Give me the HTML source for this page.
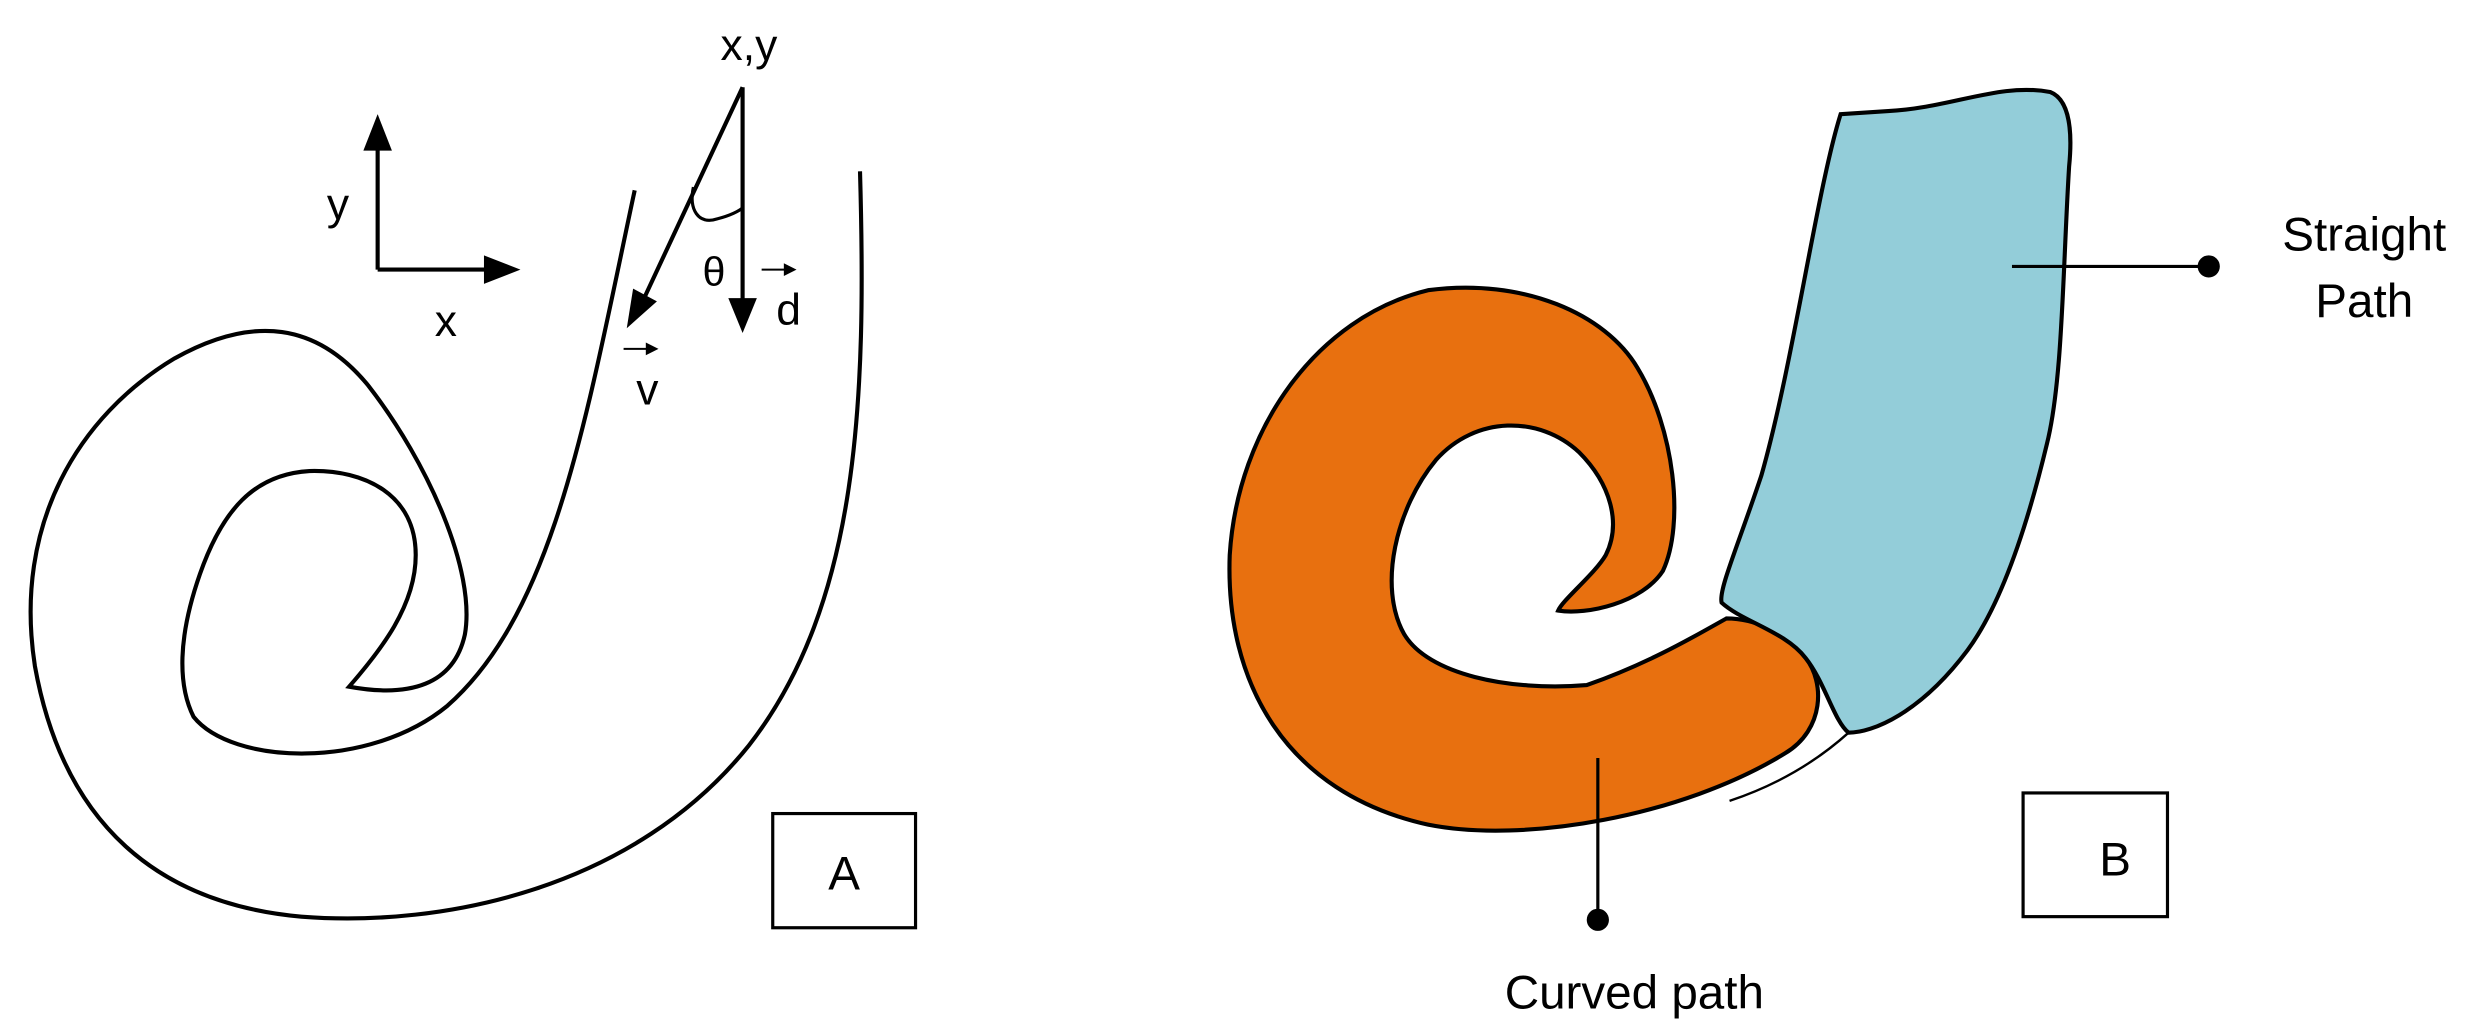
<!DOCTYPE html>
<html><head><meta charset="utf-8"><style>
html,body{margin:0;padding:0;background:#fff;}
svg{display:block;}
text{font-family:"Liberation Sans",sans-serif;fill:#000;}
</style></head><body>
<svg width="2488" height="1034" viewBox="0 0 1568 652" preserveAspectRatio="none" xmlns="http://www.w3.org/2000/svg">
<rect width="1568" height="652" fill="#fff"/>
<!-- Panel A -->
<g fill="none" stroke="#000" stroke-width="2.6">
<line x1="238" y1="170" x2="238" y2="92"/>
<polygon points="238,72 229,95 247,95" fill="#000" stroke="none"/>
<line x1="238" y1="170" x2="310" y2="170"/>
<polygon points="328,170 305,161 305,179" fill="#000" stroke="none"/>
<line x1="468" y1="55" x2="468" y2="190"/>
<polygon points="468,210 459,188 477,188" fill="#000" stroke="none"/>
<line x1="468" y1="55" x2="405" y2="190"/>
<polygon points="395,207 399,182 414,190" fill="#000" stroke="none"/>
<path d="M437,118 C434,132 440,142 452,138 C460,136 466,133 468,131" stroke-width="2"/>
<line x1="480" y1="170" x2="497" y2="170" stroke-width="1.3"/>
<polygon points="502,170 494,166 494,174" fill="#000" stroke="none"/>
<line x1="393" y1="220" x2="410" y2="220" stroke-width="1.3"/>
<polygon points="415,220 407,216 407,224" fill="#000" stroke="none"/>
<path d="M542,108 C546,250 542,380 472,470 C400,560 280,585 190,578 C100,570 40,520 22,420 C8,330 50,262 110,226 C160,198 200,204 232,243 C270,292 300,360 293,400 C286,432 258,440 220,433 C240,410 262,382 262,350 C262,312 230,296 195,297 C160,299 140,322 126,362 C112,402 112,432 122,452 C146,482 232,486 282,445 C350,385 370,260 400,120"/>
<rect x="487" y="513" width="90" height="72" stroke-width="2"/>
<!-- Panel B -->
<path d="M900,183 C830,200 780,270 775,350 C772,430 810,500 900,520 C960,532 1060,515 1125,475 C1150,460 1150,430 1138,415 C1125,398 1105,390 1088,390 C1070,400 1040,418 1000,432 C950,436 900,425 885,400 C868,370 880,320 905,290 C930,262 970,262 995,285 C1015,305 1022,330 1012,350 C1005,362 985,378 982,385 C1000,388 1035,380 1048,360 C1062,330 1055,270 1032,232 C1012,198 960,175 900,183 Z" fill="#e8700f"/>
<path d="M1160,72 L1190,70 C1230,68 1260,52 1292,58 C1305,63 1306,85 1304,105 C1300,170 1300,240 1290,280 C1278,330 1262,380 1240,410 C1210,450 1180,462 1165,462 C1156,455 1150,430 1138,415 C1125,398 1098,392 1085,380 C1083,372 1095,345 1110,300 C1130,230 1145,120 1160,72 Z" fill="#93cdd9"/>
<path d="M1165,462 C1145,480 1120,495 1090,505" stroke-width="1.5"/>
<line x1="1268" y1="168" x2="1390" y2="168" stroke-width="2"/>
<line x1="1007" y1="478" x2="1007" y2="578" stroke-width="2"/>
<rect x="1275" y="500" width="91" height="78" stroke-width="2"/>
</g>
<circle cx="1392" cy="168" r="7" fill="#000"/>
<circle cx="1007" cy="580" r="7" fill="#000"/>
<text x="472" y="38" font-size="28" text-anchor="middle">x,y</text>
<text x="213" y="138" font-size="28" text-anchor="middle">y</text>
<text x="281" y="212" font-size="28" text-anchor="middle">x</text>
<text x="450" y="180" font-size="26" text-anchor="middle">θ</text>
<text x="497" y="205" font-size="28" text-anchor="middle">d</text>
<text x="408" y="255" font-size="28" text-anchor="middle">v</text>
<text x="532" y="561" font-size="30" text-anchor="middle">A</text>
<text x="1333" y="552" font-size="30" text-anchor="middle">B</text>
<text x="1490" y="158" font-size="30" text-anchor="middle">Straight</text>
<text x="1490" y="200" font-size="30" text-anchor="middle">Path</text>
<text x="1030" y="636" font-size="30" text-anchor="middle">Curved path</text>
</svg>
</body></html>
